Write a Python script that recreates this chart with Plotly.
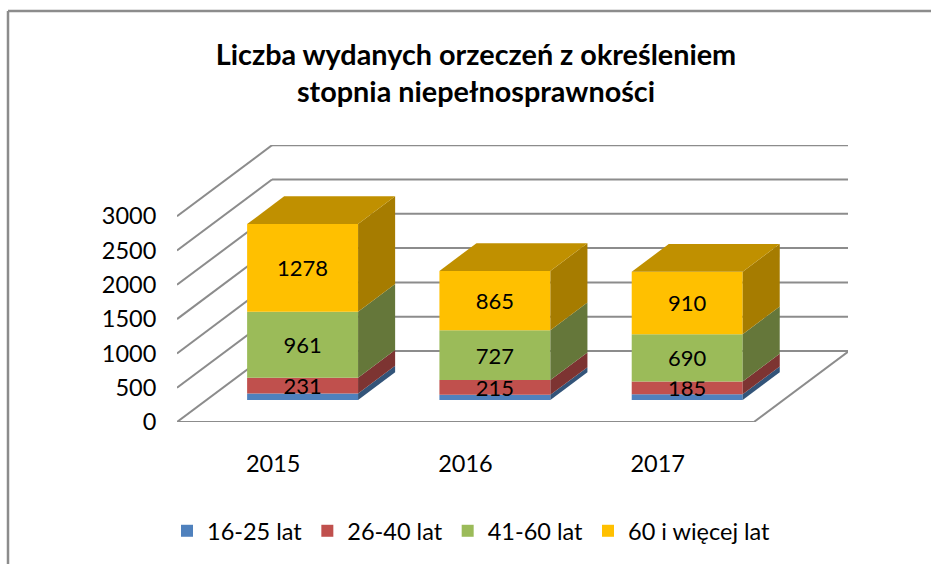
import plotly.graph_objects as go

# ---- data ----
years = ["2015", "2016", "2017"]
series_names = ["16-25 lat", "26-40 lat", "41-60 lat", "60 i więcej lat"]
v_16_25 = [95, 75, 85]
v_26_40 = [231, 215, 185]
v_41_60 = [961, 727, 690]
v_60_plus = [1278, 865, 910]
y_ticks = [0, 500, 1000, 1500, 2000, 2500, 3000]
labels_16_25 = ["", "", ""]
labels_26_40 = ["231", "215", "185"]
labels_41_60 = ["961", "727", "690"]
labels_60_plus = ["1278", "865", "910"]
front_colors = ["#4F81BD", "#C0504D", "#9BBB59", "#FFC000"]
side_colors = ["#335479", "#7D3432", "#65773A", "#A67C00"]
top_color = "#C09000"

series = [v_16_25, v_26_40, v_41_60, v_60_plus]
labels = [labels_16_25, labels_26_40, labels_41_60, labels_60_plus]

# ---- oblique projection (depth 0..1 maps to an x / y shift in data units) ----
W, H = 931, 564
L, R, T, B = 177, 848, 145, 422
CAT_PX = 192.3
UNIT_PX = 34.3 / 500
DX = 95 / CAT_PX      # categories per full depth
DY = 71 / UNIT_PX     # value units per full depth
D0, D1 = 0.31, 0.70   # bar front / back in depth
BAR_W = 0.577
FONT = "Lato"
GRID = "#8C8C8C"

x_max = (R - L) / CAT_PX
y_max = (B - T) / UNIT_PX


def px(x):
    return (x - L) / (R - L)


def py(y):
    return (B - y) / (B - T)


fig = go.Figure()

# front faces are real bars, side and top faces are projected from the same values
cum = [0, 0, 0]
for s, vals in enumerate(series):
    fig.add_trace(go.Bar(
        name=series_names[s],
        x=[i + 0.5 + D0 * DX for i in range(3)],
        y=vals,
        base=[c + D0 * DY for c in cum],
        width=BAR_W,
        marker=dict(color=front_colors[s], line=dict(width=0)),
        text=labels[s],
        textposition="inside",
        insidetextanchor="middle",
        constraintext="none",
        textangle=0,
        insidetextfont=dict(family=FONT, size=22, color="#000000"),
        hoverinfo="skip",
    ))
    for i, v in enumerate(vals):
        xr = i + 0.5 + D0 * DX + BAR_W / 2
        xb = xr + (D1 - D0) * DX
        lo, hi = cum[i], cum[i] + v
        fig.add_trace(go.Scatter(
            x=[xr, xb, xb, xr, xr],
            y=[lo + D0 * DY, lo + D1 * DY, hi + D1 * DY, hi + D0 * DY, lo + D0 * DY],
            mode="lines", fill="toself", fillcolor=side_colors[s],
            line=dict(width=0), showlegend=False, hoverinfo="skip", cliponaxis=False,
        ))
    cum = [c + v for c, v in zip(cum, vals)]

for i, total in enumerate(cum):
    xl = i + 0.5 + D0 * DX - BAR_W / 2
    xr = xl + BAR_W
    sx = (D1 - D0) * DX
    fig.add_trace(go.Scatter(
        x=[xl, xr, xr + sx, xl + sx, xl],
        y=[total + D0 * DY, total + D0 * DY, total + D1 * DY, total + D1 * DY, total + D0 * DY],
        mode="lines", fill="toself", fillcolor=top_color,
        line=dict(width=0), showlegend=False, hoverinfo="skip", cliponaxis=False,
    ))

# walls: gridlines on the side and back walls, floor edges
shapes = []
line = dict(color=GRID, width=2)
for t in y_ticks:
    shapes.append(dict(type="line", xref="x", yref="y", layer="below",
                       x0=0, y0=t, x1=DX, y1=t + DY, line=line))
    shapes.append(dict(type="line", xref="x", yref="y", layer="below",
                       x0=DX, y0=t + DY, x1=3 + DX, y1=t + DY, line=line))
shapes.append(dict(type="line", xref="x", yref="y", layer="below",
                   x0=0, y0=0, x1=3, y1=0, line=line))
shapes.append(dict(type="line", xref="x", yref="y", layer="below",
                   x0=3, y0=0, x1=3 + DX, y1=DY, line=line))
# chart-area frame: open at the right and bottom picture edges
frame = dict(color="#8C8C8C", width=2.5)
shapes.append(dict(type="line", xref="paper", yref="paper", layer="below",
                   x0=px(8), y0=py(H), x1=px(8), y1=py(11), line=frame))
shapes.append(dict(type="line", xref="paper", yref="paper", layer="below",
                   x0=px(8), y0=py(11), x1=px(W), y1=py(11), line=frame))

fig.update_layout(
    width=W, height=H,
    margin=dict(l=L, r=W - R, t=T, b=H - B, pad=0),
    paper_bgcolor="#FFFFFF", plot_bgcolor="rgba(0,0,0,0)",
    barmode="overlay",
    font=dict(family=FONT, size=23.5, color="#000000"),
    title=dict(
        text="<b>Liczba wydanych orzeczeń z określeniem<br>stopnia niepełnosprawności</b>",
        x=476 / W, xanchor="center", y=1 - 65 / H, yanchor="middle",
        font=dict(family=FONT, size=28.8, color="#000000"),
    ),
    xaxis=dict(
        range=[0, x_max], tickvals=[0.5, 1.5, 2.5], ticktext=years,
        showgrid=False, zeroline=False, showline=False,
        ticks="outside", ticklen=21, tickcolor="rgba(0,0,0,0)",
        tickfont=dict(family=FONT, size=23.5),
    ),
    yaxis=dict(
        range=[0, y_max], tickvals=y_ticks,
        showgrid=False, zeroline=False, showline=False,
        ticks="outside", ticklen=15, tickcolor="rgba(0,0,0,0)",
        tickfont=dict(family=FONT, size=23.5),
    ),
    legend=dict(
        orientation="h", xref="container", yref="container",
        x=167 / W, xanchor="left", y=1 - 531 / H, yanchor="middle",
        traceorder="normal",
        font=dict(family=FONT, size=23.5), bgcolor="rgba(0,0,0,0)",
    ),
    shapes=shapes,
)

fig.write_html("out.html", config={"displayModeBar": False},
               post_script="document.body.style.margin='0';document.body.style.overflow='hidden';")
